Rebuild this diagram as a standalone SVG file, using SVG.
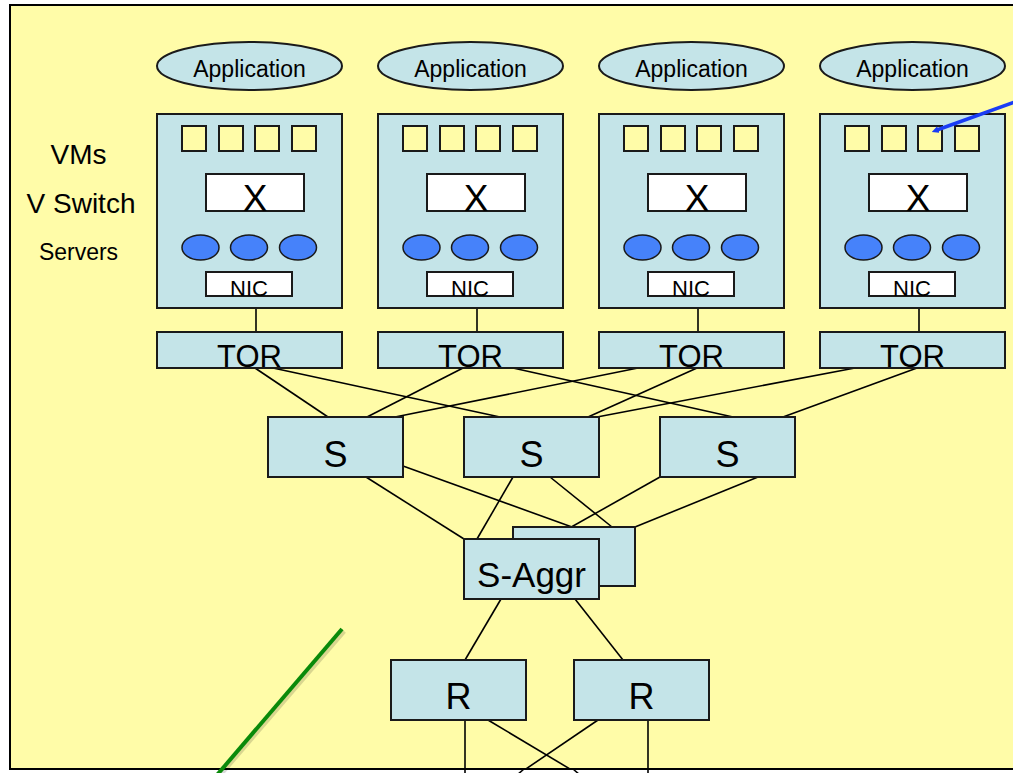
<svg xmlns="http://www.w3.org/2000/svg" width="1013" height="773" viewBox="0 0 1013 773">
<style>
text{font-family:"Liberation Sans",Arial,sans-serif;fill:#000;text-anchor:middle}
.box{fill:#C4E4E8;stroke:#1a1a1a;stroke-width:2}
.vm{fill:#FFFCA8;stroke:#1a1a1a;stroke-width:2}
.wb{fill:#fff;stroke:#1a1a1a;stroke-width:2}
.blob{fill:#4682FA;stroke:#1a1a1a;stroke-width:1.5}
.app{fill:#C4E4E8;stroke:#1a1a1a;stroke-width:2}
.cn line{stroke:#000;stroke-width:1.6}
</style>
<defs>
<marker id="bh" viewBox="0 0 10 10" refX="2" refY="5" markerWidth="2" markerHeight="2" orient="auto-start-reverse"><path d="M0,0 L10,5 L0,10 z" fill="#1a3cf5"/></marker>
<g id="srv">
<rect class="box" x="157" y="114" width="185" height="194"/>
<rect class="vm" x="182" y="126" width="24" height="25"/>
<rect class="vm" x="219" y="126" width="24" height="25"/>
<rect class="vm" x="255" y="126" width="24" height="25"/>
<rect class="vm" x="292" y="126" width="24" height="25"/>
<rect class="wb" x="206" y="174" width="98" height="37"/>
<text x="255" y="211" font-size="37">X</text>
<ellipse class="blob" cx="200.5" cy="247.5" rx="18.5" ry="12.5"/>
<ellipse class="blob" cx="249" cy="247.5" rx="18.5" ry="12.5"/>
<ellipse class="blob" cx="298" cy="247.5" rx="18.5" ry="12.5"/>
<rect class="wb" x="206" y="272" width="86" height="24"/>
<text x="249" y="296" font-size="22">NIC</text>
</g>
</defs>
<rect x="10" y="5" width="1012" height="764" fill="#FFFCA8" stroke="#000" stroke-width="2"/>

<g id="labels">
<text x="78.5" y="164" font-size="28">VMs</text>
<text x="81" y="213" font-size="28">V Switch</text>
<text x="78.5" y="260" font-size="23">Servers</text>
</g>

<g class="cn" id="connectors">
<line x1="256" y1="308" x2="256" y2="332"/>
<line x1="477" y1="308" x2="477" y2="332"/>
<line x1="698" y1="308" x2="698" y2="332"/>
<line x1="919" y1="308" x2="919" y2="332"/>
<line x1="255" y1="368" x2="328" y2="417"/>
<line x1="273" y1="368" x2="500" y2="417"/>
<line x1="463" y1="368" x2="367" y2="417"/>
<line x1="513" y1="368" x2="733" y2="417"/>
<line x1="638" y1="368" x2="395" y2="417"/>
<line x1="697" y1="368" x2="588" y2="417"/>
<line x1="855" y1="368" x2="597" y2="417"/>
<line x1="917" y1="368" x2="783" y2="417"/>
<line x1="366" y1="477" x2="464" y2="539"/>
<line x1="403" y1="466" x2="572" y2="527"/>
<line x1="513" y1="477" x2="477" y2="539"/>
<line x1="550" y1="477" x2="612" y2="527"/>
<line x1="660" y1="477" x2="550" y2="539"/>
<line x1="758" y1="477" x2="635" y2="527"/>
<line x1="501" y1="599" x2="465" y2="660"/>
<line x1="575" y1="599" x2="623" y2="660"/>
<line x1="465" y1="720" x2="465" y2="775"/>
<line x1="488" y1="720" x2="580" y2="775"/>
<line x1="648" y1="720" x2="648" y2="775"/>
<line x1="598" y1="720" x2="517" y2="775"/>
</g>

<g id="app1"><ellipse class="app" cx="249.5" cy="66" rx="92.5" ry="24"/><text x="249.5" y="77" font-size="23">Application</text></g>
<g id="app2" transform="translate(221,0)"><ellipse class="app" cx="249.5" cy="66" rx="92.5" ry="24"/><text x="249.5" y="77" font-size="23">Application</text></g>
<g id="app3" transform="translate(442,0)"><ellipse class="app" cx="249.5" cy="66" rx="92.5" ry="24"/><text x="249.5" y="77" font-size="23">Application</text></g>
<g id="app4" transform="translate(663,0)"><ellipse class="app" cx="249.5" cy="66" rx="92.5" ry="24"/><text x="249.5" y="77" font-size="23">Application</text></g>

<g id="server1"><use href="#srv"/></g>
<g id="server2" transform="translate(221,0)"><use href="#srv"/></g>
<g id="server3" transform="translate(442,0)"><use href="#srv"/></g>
<g id="server4" transform="translate(663,0)"><use href="#srv"/></g>

<g id="tor1"><rect class="box" x="157" y="332" width="185" height="36"/><text x="249.5" y="367" font-size="31">TOR</text></g>
<g id="tor2" transform="translate(221,0)"><rect class="box" x="157" y="332" width="185" height="36"/><text x="249.5" y="367" font-size="31">TOR</text></g>
<g id="tor3" transform="translate(442,0)"><rect class="box" x="157" y="332" width="185" height="36"/><text x="249.5" y="367" font-size="31">TOR</text></g>
<g id="tor4" transform="translate(663,0)"><rect class="box" x="157" y="332" width="185" height="36"/><text x="249.5" y="367" font-size="31">TOR</text></g>

<g id="s1"><rect class="box" x="268" y="417" width="135" height="60"/><text x="335.5" y="467" font-size="36">S</text></g>
<g id="s2"><rect class="box" x="464" y="417" width="135" height="60"/><text x="531.5" y="467" font-size="36">S</text></g>
<g id="s3"><rect class="box" x="660" y="417" width="135" height="60"/><text x="727.5" y="467" font-size="36">S</text></g>

<g id="saggr-back"><rect class="box" x="513" y="527" width="122" height="59"/></g>
<g id="saggr"><rect class="box" x="464" y="539" width="135" height="60"/><text x="531.5" y="587" font-size="35">S-Aggr</text></g>

<g id="r1"><rect class="box" x="391" y="660" width="135" height="60"/><text x="458.5" y="709" font-size="36">R</text></g>
<g id="r2"><rect class="box" x="574" y="660" width="135" height="60"/><text x="641.5" y="709" font-size="36">R</text></g>

<rect x="0" y="770" width="1013" height="3" fill="#fff"/>
<g id="bottom-lines" class="cn">
<line x1="465" y1="769" x2="465" y2="775"/>
<line x1="573" y1="769" x2="580" y2="775"/>
<line x1="648" y1="769" x2="648" y2="775"/>
<line x1="524" y1="769" x2="517" y2="775"/>
</g>

<g id="green-line">
<line x1="344" y1="631" x2="220" y2="775" stroke="#000" stroke-opacity="0.15" stroke-width="5"/>
<line x1="342" y1="629" x2="217" y2="775" stroke="#0a8a0a" stroke-width="4"/>
</g>
<g id="blue-arrow">
<line x1="1015" y1="102" x2="937" y2="130" stroke="#1a3cf5" stroke-width="3.5" marker-end="url(#bh)"/>
</g>
</svg>
